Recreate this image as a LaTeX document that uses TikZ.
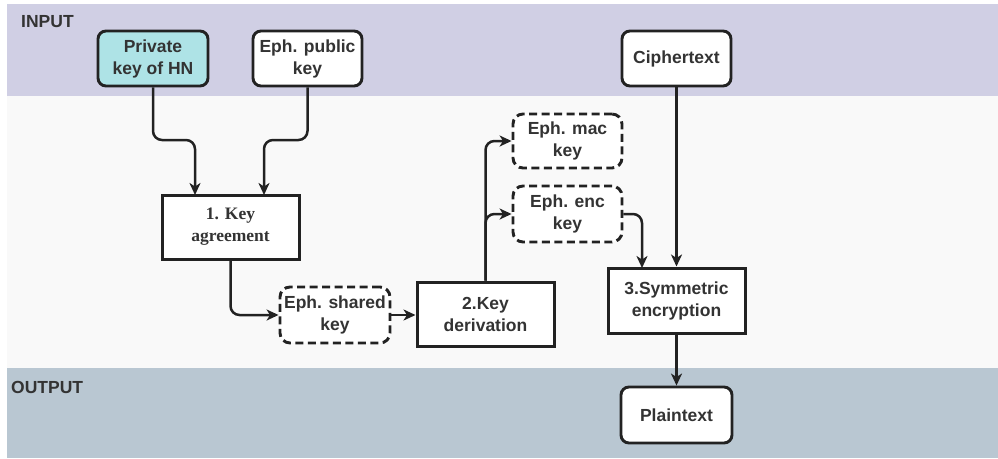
\documentclass[tikz,border=0pt]{standalone}
\usepackage{fontspec}
\setmainfont{Liberation Sans}
\newfontfamily\serifbf{Liberation Serif}
\usetikzlibrary{arrows.meta}
\definecolor{inband}{HTML}{D0CFE4}
\definecolor{outband}{HTML}{B9C7D2}
\definecolor{midband}{HTML}{F9F9F9}
\definecolor{hnfill}{HTML}{AEE3E6}
\definecolor{ink}{HTML}{222222}
\definecolor{txt}{HTML}{333333}
\tikzset{
  lbl/.style={font=\fontsize{17.5}{22}\selectfont\bfseries, text=txt, align=center, inner sep=0pt},
  databox/.style={lbl, draw=ink, line width=2.9pt, rounded corners=8pt, fill=white},
  tmpbox/.style={lbl, draw=ink, line width=2.9pt, rounded corners=10pt, fill=white, dash pattern=on 8pt off 4.5pt},
  procbox/.style={lbl, draw=ink, line width=3pt, fill=white},
  arr/.style={draw=ink, line width=2.5pt, rounded corners=9pt, -{Stealth[length=12pt,width=11pt,inset=3.5pt]}},
}
\begin{document}
\begin{tikzpicture}[x=1pt,y=-1pt]
  % canvas and the two lanes
  \useasboundingbox (0,0) rectangle (998,458);
  \fill[white] (0,0) rectangle (998,458);
  \fill[midband] (7,96) rectangle (998,368);
  \fill[inband] (7,4) rectangle (998,96);
  \fill[outband] (7,368) rectangle (998,458);
  \node[lbl, anchor=west] (inlbl) at (21,21.5) {INPUT};
  \node[lbl, anchor=west] (outlbl) at (11,387.5) {OUTPUT};

  % inputs
  \node[databox, fill=hnfill, minimum width=110pt, minimum height=55pt] (priv) at (153,58.5) {Private\\key of HN};
  \node[databox, minimum width=109pt, minimum height=55pt] (pub) at (307.5,58.5) {Eph. public\\key};
  \node[databox, minimum width=109pt, minimum height=55pt] (ciph) at (676.5,58.5) {Ciphertext};

  % processing steps
  \node[procbox, font=\fontsize{17.5}{22}\serifbf\bfseries, minimum width=137pt, minimum height=64pt] (ka) at (230.5,227) {1. Key\\agreement};
  \node[procbox, minimum width=137pt, minimum height=64pt] (kd) at (485.5,314) {2.Key\\derivation};
  \node[procbox, minimum width=137pt, minimum height=65pt] (sym) at (676.5,300.5) {3.Symmetric\\encryption};

  % intermediate keys
  \node[tmpbox, minimum width=110pt, minimum height=56pt] (shared) at (335,315) {Eph. shared\\key};
  \node[tmpbox, minimum width=109pt, minimum height=54pt] (mac) at (567.5,141) {Eph. mac\\key};
  \node[tmpbox, minimum width=109pt, minimum height=56pt] (enc) at (567.5,214) {Eph. enc\\key};

  % output
  \node[databox, minimum width=111pt, minimum height=56pt] (plain) at (676.5,415) {Plaintext};

  % entry points on the step boxes
  \coordinate (kain1) at (195,195);
  \coordinate (kain2) at (264,195);
  \coordinate (symin) at (642,268);

  % connectors
  \draw[arr] (priv.south) -- (priv.south |- 0,140) -| (kain1);
  \draw[arr] (pub.south) -- (pub.south |- 0,140) -| (kain2);
  \draw[arr] (ka.south) |- (shared.west);
  \draw[arr, rounded corners=0pt] (shared.east) -- (kd.west |- shared.east);
  \draw[arr] (kd.north) |- (mac.west);
  \draw[arr] (kd.north) |- (enc.west);
  \draw[arr] (enc.east) -| (symin);
  \draw[arr] (ciph.south) -- (sym.north);
  \draw[arr] (sym.south) -- (plain.north);
\end{tikzpicture}
\end{document}
